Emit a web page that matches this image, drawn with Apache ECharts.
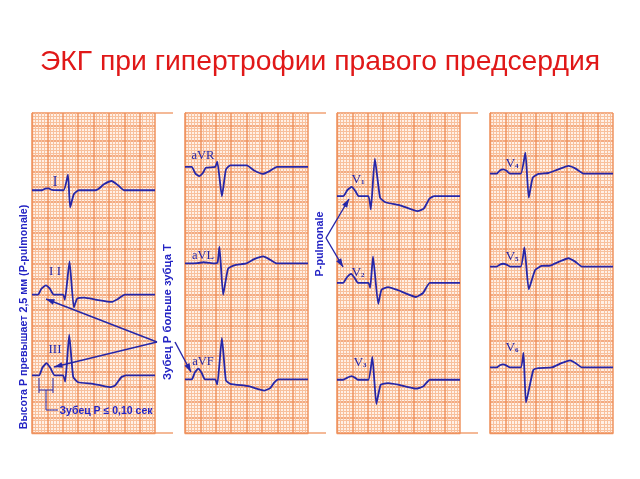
<!DOCTYPE html>
<html>
<head>
<meta charset="utf-8">
<style>
html, body { margin: 0; background: #fff; }
#chart { width: 640px; height: 479px; }
</style>
<script src="https://cdn.jsdelivr.net/npm/echarts@6/dist/echarts.min.js"></script>
</head>
<body>
<div id="chart"></div>
<script>
// Paper size in small squares
const paperWidth = 40;
const paperHeight = 104;
const panelLeft = [32, 185, 337, 490];

// Isoline of each lead, in small squares above the paper's bottom edge
const leadNames = ['I', 'II', 'III', 'aVR', 'aVL', 'aVF', 'V1', 'V2', 'V3', 'V4', 'V5', 'V6'];
const leadPanels = [0, 0, 0, 1, 1, 1, 2, 2, 2, 3, 3, 3];
const baselines = [78.9, 45, 18.7, 86.5, 55.1, 17.4, 77, 48.8, 17.3, 84.3, 54.1, 21.3];

// Each trace: [squares along the paper, amplitude in squares]
const leadI = [[0,0],[3.3,0],[4.3,0.5],[5.4,0.6],[6.5,0.1],[10.3,0],[11.7,5.1],[12.4,-5.6],[13.6,-1.3],[15.2,0],[20.6,0],[21.7,0.5],[23.5,2],[25.9,3],[28,1.6],[29.9,0],[40,0]];
const leadII = [[0,0],[2,0],[3,1.8],[4.5,3],[5.8,1.9],[7,0],[10.1,0],[10.7,-1.7],[12.2,10.8],[13.6,-4.2],[14.7,-1.3],[17,-1.0],[21,-1.7],[25.9,-2.4],[28,-1.4],[30.2,0],[40,0]];
const leadIII = [[0,0],[2.3,0],[3.4,2.6],[4.7,4],[6,2.4],[7.4,0],[10.1,0],[10.8,-2],[12.1,13.3],[13.4,-0.5],[15,-2.2],[19.9,-2.7],[25.3,-3.8],[27,-3.3],[29.1,-0.5],[30.5,0],[40,0]];
const leadAVR = [[0,0],[2.2,0],[3.4,-2.2],[4.6,-3],[5.8,-2],[6.8,-0.3],[9.8,0],[10.5,1.7],[12,-9.6],[13.3,-0.9],[14.7,0.5],[20.1,0.5],[22.5,-1.2],[25.3,-2.3],[27.5,-1.4],[29.9,0],[40,0]];
const leadAVL = [[0,0],[4,0.1],[6,0.4],[9.7,0],[10.6,0.3],[11.2,5.5],[12.4,-10.2],[14,-1.7],[16,-0.6],[19.9,0],[22.5,1.4],[25.5,2.3],[27.7,1.2],[29.9,0],[40,0]];
const leadAVF = [[0,0],[2.2,0],[3.2,2.3],[4.3,3.5],[5.4,2.2],[6.5,0],[9.8,0],[10.5,-1.6],[12,13.5],[13.3,-0.3],[14.7,-1.4],[20.7,-2.2],[25.8,-3.6],[27.7,-2.8],[29,-1],[30.4,0],[40,0]];
const leadV1 = [[0,0],[2.1,0],[3.4,2],[4.8,3],[6,1.6],[7,0],[10.2,0],[11,-4.3],[12.3,12.2],[14,-0.5],[15.7,-2],[20.5,-3],[26.2,-4.9],[28.2,-4.1],[30.1,-0.8],[31.6,0],[40,0]];
const leadV2 = [[0,0],[2,0],[3.3,1.9],[4.6,2.9],[5.8,1.5],[6.8,0],[10.2,0],[10.8,-1.6],[11.7,8.6],[13.4,-6.8],[14.5,-2.2],[16.6,-1.4],[19.9,-2.4],[25.7,-4.6],[28,-3.3],[30.2,0],[40,0]];
const leadV3 = [[0,0],[2,0],[3.4,0.7],[4.7,1.2],[5.8,0.7],[6.8,0],[10.2,0],[11.5,7.4],[12.8,-7.9],[14.2,-1.6],[16.6,-1.1],[19.9,-1.6],[25.7,-2.9],[28,-2.2],[30.2,0],[40,0]];
const leadV4 = [[0,0],[2.2,0],[3.2,1],[4.3,1.4],[5.4,0.9],[6.5,0],[10,0],[11.5,6.8],[12.6,-7.8],[13.9,-1.3],[15.8,-0.1],[19,0.2],[22,1.3],[25.5,2.5],[27.7,1.7],[30.4,0],[40,0]];
const leadV5 = [[0,0],[2.2,0],[3.2,0.6],[4.3,0.9],[5.4,0.6],[6.5,0],[10,0],[11.2,6.2],[12.6,-7.4],[14.7,-1.1],[16.8,0.2],[19.6,0.3],[22.5,1.6],[25.5,2.7],[27.7,1.6],[29.9,0],[40,0]];
const leadV6 = [[0,0],[2.2,0],[3.2,0.7],[4.3,1],[5.4,0.6],[6.5,0],[10,0],[10.9,4.7],[11.7,-11.4],[14.1,-0.8],[15.8,-0.2],[20.1,0],[23,1.3],[26.1,2.3],[28,1.3],[29.9,0],[40,0]];
const traces = [leadI, leadII, leadIII, leadAVR, leadAVL, leadAVF, leadV1, leadV2, leadV3, leadV4, leadV5, leadV6];

const blue = '#2424c4';
const traceBlue = '#2626a8';
const orange = '#ef935f';

// Straight annotation line
function stroke(points, width) {
    return {
        type: 'polyline',
        z: 20,
        shape: { points: points },
        style: { stroke: traceBlue, lineWidth: width || 1.4, fill: null }
    };
}

// Arrow from a point to its tip
function arrow(from, to) {
    const angle = Math.atan2(to[1] - from[1], to[0] - from[0]);
    const len = 9, wing = 0.33;
    return [
        stroke([from, to]),
        {
            type: 'polygon',
            z: 20,
            shape: {
                points: [
                    to,
                    [to[0] - len * Math.cos(angle - wing), to[1] - len * Math.sin(angle - wing)],
                    [to[0] - len * Math.cos(angle + wing), to[1] - len * Math.sin(angle + wing)]
                ]
            },
            style: { fill: traceBlue }
        }
    ];
}

// Blue sans text, optionally turned to read bottom-up
function note(text, x, y, turned, size) {
    return {
        type: 'text',
        z: 21,
        x: x,
        y: y,
        rotation: turned ? Math.PI / 2 : 0,
        style: {
            text: text,
            fill: blue,
            font: 'bold ' + (size || 10) + 'px "Liberation Sans", Arial, sans-serif',
            align: 'center',
            verticalAlign: 'middle'
        }
    };
}

// Lead label drawn in a serif face with an optional subscript
function leadLabel(text, sub, x, y, size) {
    return {
        type: 'text',
        z: 21,
        x: x,
        y: y,
        style: {
            text: sub ? '{m|' + text + '}{s|' + sub + '}' : '{m|' + text + '}',
            align: 'center',
            verticalAlign: 'middle',
            rich: {
                m: { fill: traceBlue, font: size + 'px "Liberation Serif", serif' },
                s: { fill: traceBlue, font: 'bold 7px "Liberation Serif", serif', padding: [7, 0, 0, 0] }
            }
        }
    };
}

function initEcgSheet() {
    const chart = echarts.init(document.getElementById('chart'));

    const grids = panelLeft.map(function(left) {
        return {
            left: left,
            top: 113,
            width: 123,
            height: 320,
            show: true,
            backgroundColor: '#fff0e6',
            borderWidth: 0
        };
    });
    const line = function(width, color) {
        return { show: true, lineStyle: { color: color, width: width, type: 'solid' } };
    };
    const xAxes = panelLeft.map(function(left, i) {
        return {
            type: 'value', gridIndex: i, min: 0, max: paperWidth, interval: 5,
            axisLabel: { show: false }, axisTick: { show: false },
            axisLine: line(1.3, orange), splitLine: line(1.5, orange),
            minorTick: { show: false, splitNumber: 5 },
            minorSplitLine: line(1, '#f8c09c')
        };
    });
    const yAxes = panelLeft.map(function(left, i) {
        return {
            type: 'value', gridIndex: i, min: 0, max: paperHeight, interval: 5,
            axisLabel: { show: false }, axisTick: { show: false },
            axisLine: line(1.3, orange), splitLine: line(1.5, orange),
            minorTick: { show: false, splitNumber: 5 },
            minorSplitLine: line(1, '#f8c09c')
        };
    });

    const series = leadNames.map(function(name, i) {
        return {
            name: name,
            type: 'line',
            xAxisIndex: leadPanels[i],
            yAxisIndex: leadPanels[i],
            data: traces[i].map(function(p) { return [p[0], baselines[i] + p[1]]; }),
            showSymbol: false,
            smooth: 0.15,
            lineStyle: { color: traceBlue, width: 1.8 },
            z: 5
        };
    });

    // Paper edges run on past panels 1-3
    const edges = [];
    [0, 1, 2].forEach(function(i) {
        const right = panelLeft[i] + 123;
        [113, 433].forEach(function(y) {
            edges.push({
                type: 'line',
                shape: { x1: right, y1: y, x2: right + 18, y2: y },
                style: { stroke: orange, lineWidth: 1.3 }
            });
        });
    });

    const marks = [].concat(
        arrow([157, 342], [46, 299]),
        arrow([157, 342], [54, 367]),
        arrow([175, 342], [191, 372]),
        arrow([326, 238], [349, 199]),
        arrow([326, 238], [343, 267]),
        [
            stroke([[39, 378], [39, 393]], 1),
            stroke([[53, 378], [53, 393]], 1),
            stroke([[39, 390], [53, 390]], 1),
            stroke([[46, 390], [46, 410], [58, 410]], 1)
        ]
    );

    const texts = [
        note('Высота Р превышает 2,5 мм (P-pulmonale)', 24, 317, true, 10.7),
        note('Зубец Р больше зубца Т', 168, 312, true, 11.3),
        note('P-pulmonale', 320, 244, true, 10.8),
        note('Зубец Р ≤ 0,10 сек', 106, 411, false, 10.5),
        leadLabel('I', '', 55, 182, 14),
        leadLabel('I I', '', 55, 272, 13),
        leadLabel('III', '', 55, 350, 13),
        leadLabel('aVR', '', 203, 156, 12.5),
        leadLabel('aVL', '', 203, 256, 12.5),
        leadLabel('aVF', '', 203, 362, 12.5),
        leadLabel('V', '1', 358, 179, 13.5),
        leadLabel('V', '2', 358, 272, 13.5),
        leadLabel('V', '3', 360, 362, 13.5),
        leadLabel('V', '4', 512, 163, 13.5),
        leadLabel('V', '5', 512, 256, 13.5),
        leadLabel('V', '6', 512, 347, 13.5)
    ];

    chart.setOption({
        animation: false,
        backgroundColor: '#ffffff',
        title: {
            text: 'ЭКГ при гипертрофии правого предсердия',
            left: 315,
            textAlign: 'center',
            top: 43,
            textStyle: {
                color: '#e01818',
                fontFamily: '"Liberation Sans", Arial, sans-serif',
                fontWeight: 'normal',
                fontSize: 28.3
            }
        },
        grid: grids,
        xAxis: xAxes,
        yAxis: yAxes,
        series: series,
        graphic: { elements: edges.concat(marks, texts) }
    });
}

document.addEventListener('DOMContentLoaded', initEcgSheet);
</script>
</body>
</html>
